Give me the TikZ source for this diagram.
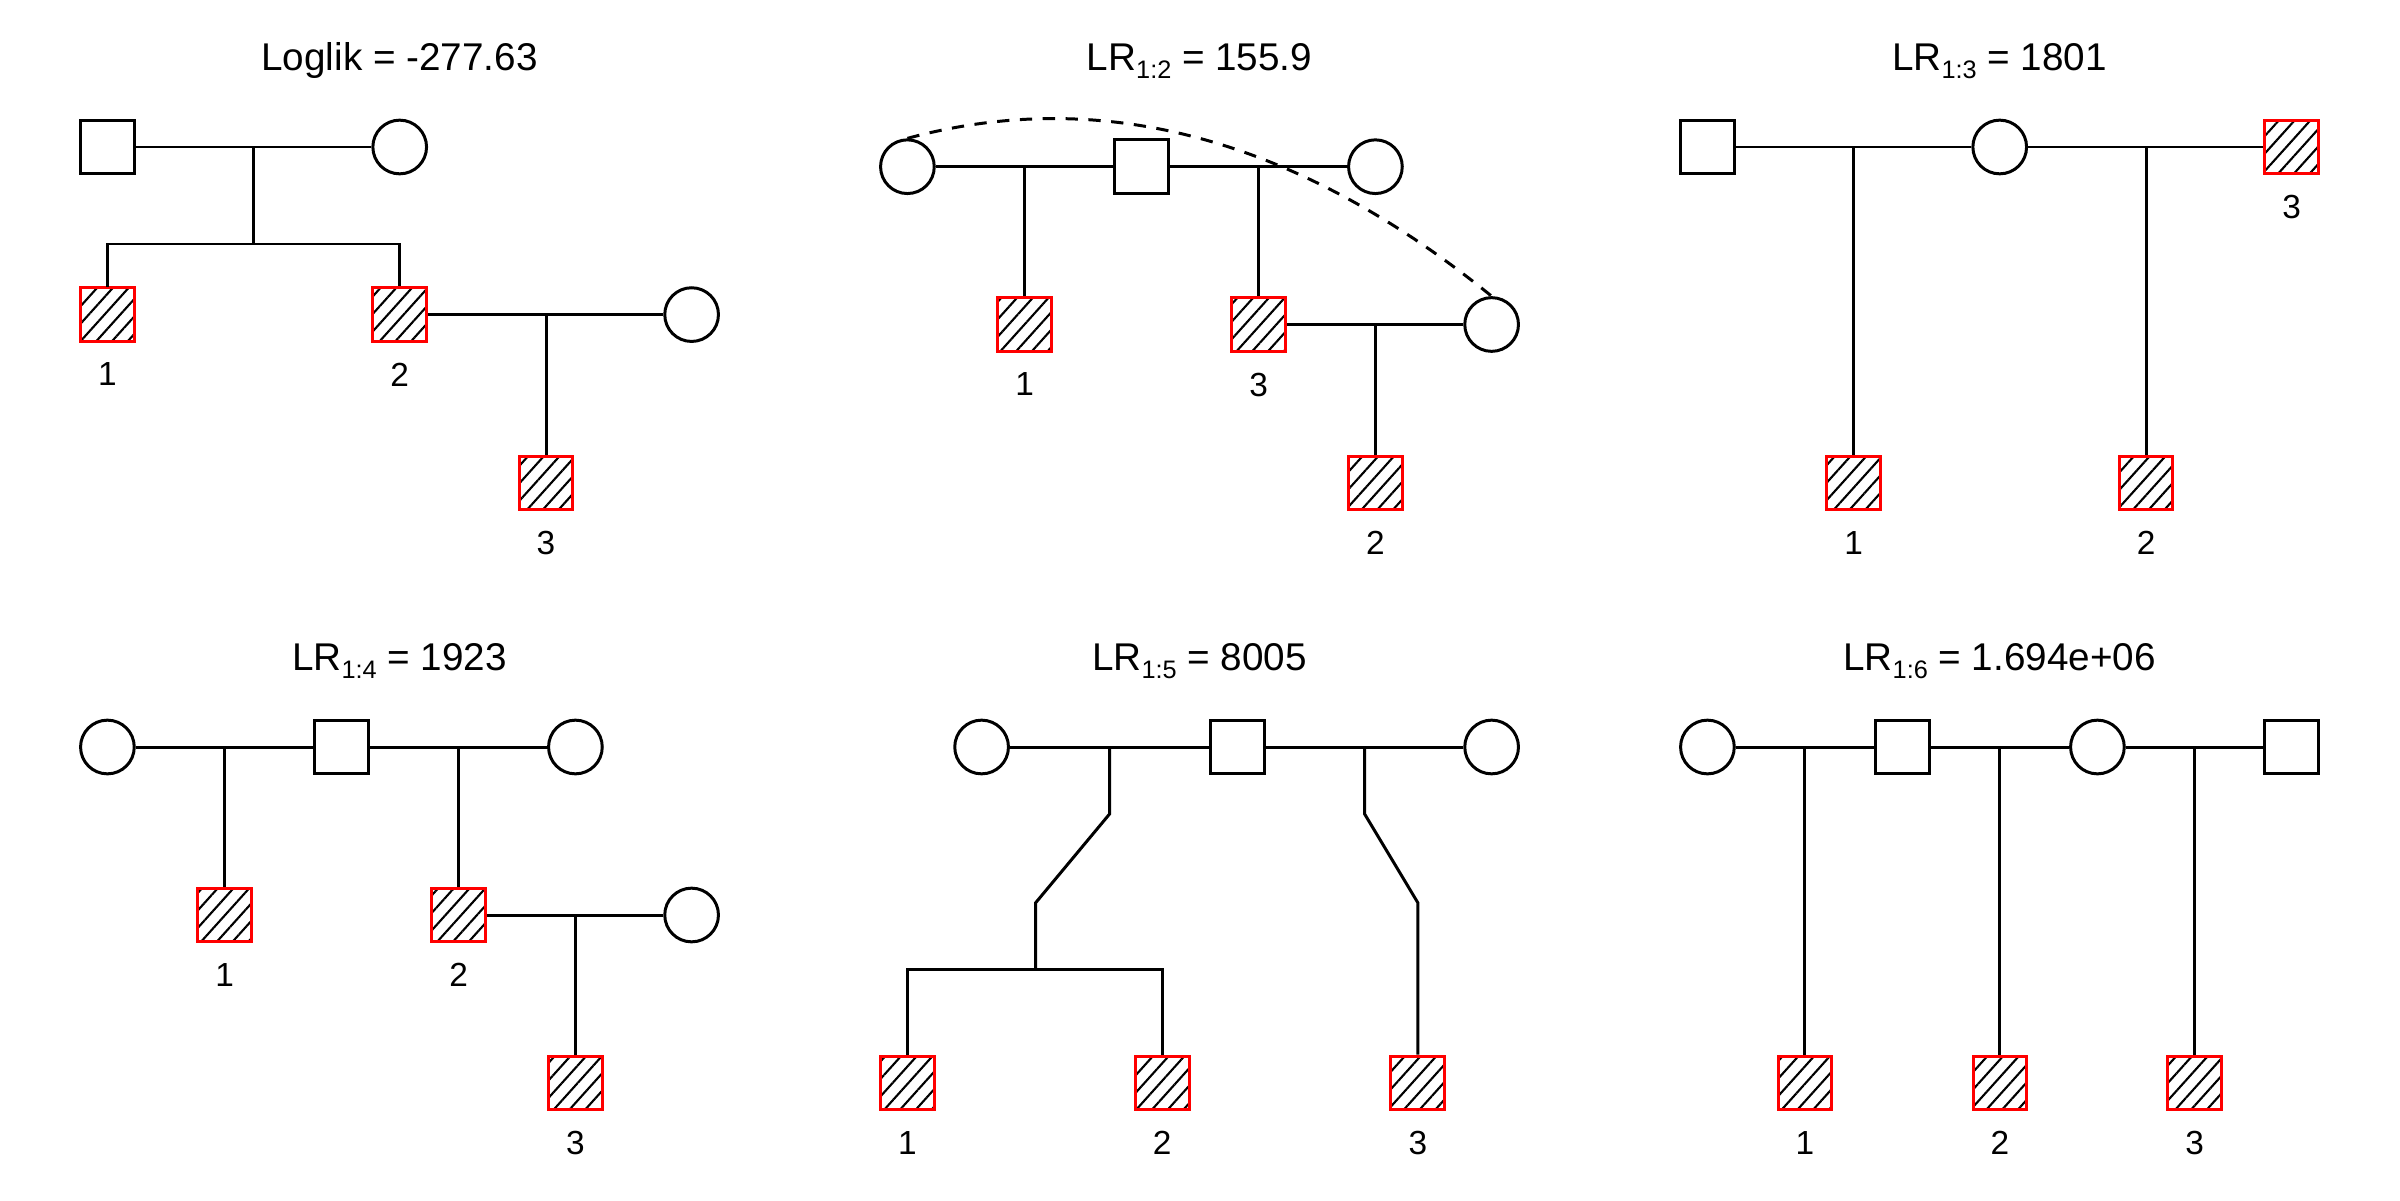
\documentclass[tikz,border=0pt]{standalone}
\usepackage{fontspec}
\setmainfont{Liberation Sans}
\usepackage{tikz}
\usetikzlibrary{positioning,patterns.meta}
\newcommand{\lrsub}[1]{\raisebox{-2.3pt}{\fontsize{7.2}{8}\selectfont #1}}

\begin{document}
\begin{tikzpicture}[line width=0.85pt,
  male/.style={draw, rectangle, minimum size=0.537cm, inner sep=0pt},
  female/.style={draw, circle, minimum size=0.537cm, inner sep=0pt},
  aff/.style={draw=red, rectangle, minimum size=0.537cm, inner sep=0pt,
    pattern={Lines[angle=48,distance=1.17mm,line width=0.6pt]}, pattern color=black},
  num/.style={inner sep=0pt, font=\fontsize{9.5}{11}\selectfont},
  ttl/.style={anchor=base, inner sep=0pt, font=\fontsize{11}{13}\selectfont},
  dup/.style={dash pattern=on 3.5pt off 3pt}]
  \useasboundingbox (0,0) rectangle (24,12);

  %% Loglik
  \node[ttl] (t1) at (3.995,11.293) {Loglik = -277.63};
  \node[male] (a1) at (1.074,10.53) {};
  \node[female] (a2) at (3.997,10.53) {};
  \node[aff] (a3) at (1.074,8.854) {};
  \node[aff] (a4) at (3.997,8.854) {};
  \node[female] (a5) at (6.916,8.854) {};
  \node[aff] (a6) at (5.46,7.17) {};
  \coordinate (a12) at (2.536,10.53);
  \coordinate (a12s) at (2.536,9.56);
  \coordinate (a45) at (5.46,8.854);
  \draw (a1) -- (a2);
  \draw (a12) -- (a12s);
  \draw (a3) |- (a12s) -| (a4);
  \draw (a4) -- (a5);
  \draw (a45) -- (a6);
  \node[num, below=0.186cm of a3] (la3) {1};
  \node[num, below=0.186cm of a4] (la4) {2};
  \node[num, below=0.186cm of a6] (la6) {3};

  %% LR 1:2
  \node[ttl] (t2) at (11.995,11.293) {LR\lrsub{1:2} = 155.9};
  \node[female] (b1) at (9.074,10.333) {};
  \node[male] (b2) at (11.413,10.333) {};
  \node[female] (b3) at (13.754,10.333) {};
  \node[aff] (b4) at (10.246,8.755) {};
  \node[aff] (b5) at (12.587,8.755) {};
  \node[female] (b6) at (14.916,8.755) {};
  \node[aff] (b7) at (13.754,7.17) {};
  \coordinate (b12) at (10.246,10.333);
  \coordinate (b23) at (12.587,10.333);
  \coordinate (b56) at (13.754,8.755);
  \draw (b1) -- (b2) -- (b3);
  \draw (b12) -- (b4);
  \draw (b23) -- (b5);
  \draw (b5) -- (b6);
  \draw (b56) -- (b7);
  \draw[dup] (b1.north) .. controls +(1.947,0.527) and +(-1.947,1.579) .. (b6.north);
  \node[num, below=0.186cm of b4] (lb4) {1};
  \node[num, below=0.186cm of b5] (lb5) {3};
  \node[num, below=0.186cm of b7] (lb7) {2};

  %% LR 1:3
  \node[ttl] (t3) at (19.995,11.293) {LR\lrsub{1:3} = 1801};
  \node[male] (c1) at (17.074,10.53) {};
  \node[female] (c2) at (19.997,10.53) {};
  \node[aff] (c3) at (22.916,10.53) {};
  \node[aff] (c4) at (18.536,7.17) {};
  \node[aff] (c5) at (21.46,7.17) {};
  \coordinate (c12) at (18.536,10.53);
  \coordinate (c23) at (21.46,10.53);
  \draw (c1) -- (c2) -- (c3);
  \draw (c12) -- (c4);
  \draw (c23) -- (c5);
  \node[num, below=0.186cm of c3] (lc3) {3};
  \node[num, below=0.186cm of c4] (lc4) {1};
  \node[num, below=0.186cm of c5] (lc5) {2};

  %% LR 1:4
  \node[ttl] (t4) at (3.995,5.293) {LR\lrsub{1:4} = 1923};
  \node[female] (d1) at (1.074,4.53) {};
  \node[male] (d2) at (3.413,4.53) {};
  \node[female] (d3) at (5.754,4.53) {};
  \node[aff] (d4) at (2.246,2.85) {};
  \node[aff] (d5) at (4.587,2.85) {};
  \node[female] (d6) at (6.916,2.85) {};
  \node[aff] (d7) at (5.754,1.17) {};
  \coordinate (d12) at (2.246,4.53);
  \coordinate (d23) at (4.587,4.53);
  \coordinate (d56) at (5.754,2.85);
  \draw (d1) -- (d2) -- (d3);
  \draw (d12) -- (d4);
  \draw (d23) -- (d5);
  \draw (d5) -- (d6);
  \draw (d56) -- (d7);
  \node[num, below=0.186cm of d4] (ld4) {1};
  \node[num, below=0.186cm of d5] (ld5) {2};
  \node[num, below=0.186cm of d7] (ld7) {3};

  %% LR 1:5
  \node[ttl] (t5) at (11.995,5.293) {LR\lrsub{1:5} = 8005};
  \node[female] (e1) at (9.816,4.53) {};
  \node[male] (e2) at (12.375,4.53) {};
  \node[female] (e3) at (14.916,4.53) {};
  \node[aff] (e4) at (9.074,1.17) {};
  \node[aff] (e5) at (11.622,1.17) {};
  \node[aff] (e6) at (14.178,1.17) {};
  \coordinate (e12) at (11.097,4.53);
  \coordinate (e12u) at (11.097,3.862);
  \coordinate (e12d) at (10.357,2.973);
  \coordinate (e12s) at (10.357,2.303);
  \coordinate (e23) at (13.645,4.53);
  \coordinate (e23u) at (13.645,3.862);
  \coordinate (e23d) at (14.178,2.973);
  \draw (e1) -- (e2) -- (e3);
  \draw (e12) -- (e12u) -- (e12d) -- (e12s);
  \draw (e4) |- (e12s) -| (e5);
  \draw (e23) -- (e23u) -- (e23d) -- (e6);
  \node[num, below=0.186cm of e4] (le4) {1};
  \node[num, below=0.186cm of e5] (le5) {2};
  \node[num, below=0.186cm of e6] (le6) {3};

  %% LR 1:6
  \node[ttl] (t6) at (19.995,5.293) {LR\lrsub{1:6} = 1.694e+06};
  \node[female] (f1) at (17.074,4.53) {};
  \node[male] (f2) at (19.023,4.53) {};
  \node[female] (f3) at (20.974,4.53) {};
  \node[male] (f4) at (22.916,4.53) {};
  \node[aff] (f5) at (18.049,1.17) {};
  \node[aff] (f6) at (19.999,1.17) {};
  \node[aff] (f7) at (21.945,1.17) {};
  \coordinate (f12) at (18.049,4.53);
  \coordinate (f23) at (19.999,4.53);
  \coordinate (f34) at (21.945,4.53);
  \draw (f1) -- (f2) -- (f3) -- (f4);
  \draw (f12) -- (f5);
  \draw (f23) -- (f6);
  \draw (f34) -- (f7);
  \node[num, below=0.186cm of f5] (lf5) {1};
  \node[num, below=0.186cm of f6] (lf6) {2};
  \node[num, below=0.186cm of f7] (lf7) {3};
\end{tikzpicture}
\end{document}
